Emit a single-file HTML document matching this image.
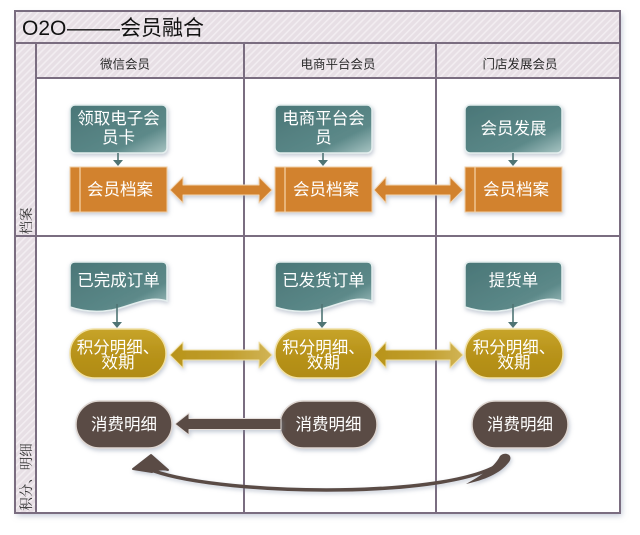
<!DOCTYPE html>
<html><head><meta charset="utf-8"><style>
html,body{margin:0;padding:0;background:#fff;}
svg{display:block;}
text{font-family:"Liberation Sans","Noto Sans CJK SC",sans-serif;}
.w{fill:#fff;font-size:16.5px;text-anchor:middle;}
.hd{fill:#2a2a2a;font-size:12.5px;text-anchor:middle;}
.lb{fill:#333;font-size:13.5px;text-anchor:middle;font-family:"Liberation Serif","Noto Serif CJK SC",serif;}
</style></head><body>
<svg width="640" height="535" viewBox="0 0 640 535" xmlns="http://www.w3.org/2000/svg">
<defs>
<pattern id="h" width="5" height="5" patternUnits="userSpaceOnUse" patternTransform="rotate(45)">
<rect width="5" height="5" fill="#e7dfe5"/>
<rect width="1.6" height="5" fill="#f2edf1"/>
</pattern>
<linearGradient id="teal" x1="0" y1="0" x2="1" y2="1">
<stop offset="0" stop-color="#4a7677"/><stop offset="0.7" stop-color="#5c8989"/><stop offset="1" stop-color="#a9c5c4"/>
</linearGradient>
<linearGradient id="gold" x1="0" y1="0" x2="0" y2="1">
<stop offset="0" stop-color="#c7a42a"/><stop offset="0.5" stop-color="#b8931a"/><stop offset="1" stop-color="#b08b16"/>
</linearGradient>
<linearGradient id="goldA" x1="0" y1="0" x2="1" y2="0">
<stop offset="0" stop-color="#b8931a"/><stop offset="0.6" stop-color="#c2a030"/><stop offset="1" stop-color="#d1b456"/>
</linearGradient>
<filter id="sh" x="-20%" y="-20%" width="140%" height="150%">
<feDropShadow dx="1" dy="2" stdDeviation="2" flood-color="#7a8aa0" flood-opacity="0.45"/>
</filter>
<filter id="fsh" x="-5%" y="-5%" width="110%" height="110%">
<feDropShadow dx="2" dy="3" stdDeviation="3" flood-color="#8a98b0" flood-opacity="0.5"/>
</filter>
</defs>

<!-- frame -->
<rect x="15" y="11" width="605" height="502" fill="#fff" filter="url(#fsh)"/>
<rect x="15" y="11" width="605" height="32" fill="url(#h)"/>
<rect x="15" y="43" width="605" height="35" fill="url(#h)"/>
<rect x="15" y="43" width="21" height="470" fill="url(#h)"/>

<g stroke="#7a6d80" stroke-width="2" fill="none">
<rect x="15" y="11" width="605" height="502"/>
<line x1="15" y1="43" x2="620" y2="43"/>
<line x1="36" y1="78" x2="620" y2="78"/>
<line x1="36" y1="43" x2="36" y2="513"/>
<line x1="244" y1="43" x2="244" y2="513"/>
<line x1="436" y1="43" x2="436" y2="513"/>
<line x1="15" y1="236" x2="620" y2="236"/>
</g>

<!-- title -->
<text x="22" y="35" font-size="21" fill="#111">O2O</text>
<text x="67" y="35" font-size="21" fill="#111" textLength="53" lengthAdjust="spacingAndGlyphs">——</text>
<text x="120" y="35" font-size="21" fill="#111">会员融合</text>

<!-- headers -->
<text class="hd" x="125" y="68.5">微信会员</text>
<text class="hd" x="338" y="68.5">电商平台会员</text>
<text class="hd" x="520" y="68.5">门店发展会员</text>

<text class="lb" transform="translate(31,221) rotate(-90)">档案</text>
<text class="lb" transform="translate(31,477) rotate(-90)">积分、明细</text>

<!-- row 1 teal boxes -->
<g filter="url(#sh)" stroke="#e4eeee" stroke-width="1.5">
<rect x="70" y="105" width="97" height="48" rx="5" fill="url(#teal)"/>
<rect x="275" y="105" width="97" height="48" rx="5" fill="url(#teal)"/>
<rect x="465" y="105" width="97" height="48" rx="5" fill="url(#teal)"/>
</g>
<text class="w" x="118.5" y="124">领取电子会</text>
<text class="w" x="118.5" y="143">员卡</text>
<text class="w" x="323.5" y="124">电商平台会</text>
<text class="w" x="323.5" y="143">员</text>
<text class="w" x="513.5" y="134">会员发展</text>

<!-- small teal arrows row1 -->
<g stroke="#4f7474" stroke-width="1.6" fill="#4f7474">
<line x1="118" y1="153" x2="118" y2="161"/><path d="M113,160 L123,160 L118,166 Z" stroke="none"/>
<line x1="323" y1="153" x2="323" y2="161"/><path d="M318,160 L328,160 L323,166 Z" stroke="none"/>
<line x1="513" y1="153" x2="513" y2="161"/><path d="M508,160 L518,160 L513,166 Z" stroke="none"/>
</g>

<!-- orange boxes -->
<g filter="url(#sh)">
<rect x="70" y="167" width="97" height="45" fill="#d2822f" stroke="#f2cfa4" stroke-width="1"/>
<rect x="275" y="167" width="97" height="45" fill="#d2822f" stroke="#f2cfa4" stroke-width="1"/>
<rect x="465" y="167" width="97" height="45" fill="#d2822f" stroke="#f2cfa4" stroke-width="1"/>
</g>
<g stroke="#f0c592" stroke-width="1.5">
<line x1="80" y1="167.5" x2="80" y2="211.5"/>
<line x1="285" y1="167.5" x2="285" y2="211.5"/>
<line x1="475" y1="167.5" x2="475" y2="211.5"/>
</g>
<text class="w" x="120" y="195">会员档案</text>
<text class="w" x="326" y="195">会员档案</text>
<text class="w" x="516" y="195">会员档案</text>

<!-- orange double arrows -->
<g fill="#d2822f" stroke="#f3d6b2" stroke-width="1" filter="url(#sh)" stroke-linejoin="round">
<path d="M170,190 L183,177 L183,185 L259,185 L259,177 L272,190 L259,203 L259,195 L183,195 L183,203 Z"/>
<path d="M374,190 L386,177 L386,185 L450,185 L450,177 L463,190 L450,203 L450,195 L386,195 L386,203 Z"/>
</g>

<!-- row 2 documents -->
<g filter="url(#sh)" stroke="#e4eeee" stroke-width="1.5" fill="url(#teal)">
<path d="M70,267 Q70,262 75,262 H162 Q167,262 167,267 V301 C148,295 132,306 112,310 C95,313 82,311 70,307 Z"/>
<path d="M275,267 Q275,262 280,262 H367 Q372,262 372,267 V301 C353,295 337,306 317,310 C300,313 287,311 275,307 Z"/>
<path d="M465,267 Q465,262 470,262 H557 Q562,262 562,267 V301 C543,295 527,306 507,310 C490,313 477,311 465,307 Z"/>
</g>
<text class="w" x="118.5" y="286">已完成订单</text>
<text class="w" x="323.5" y="286">已发货订单</text>
<text class="w" x="513.5" y="286">提货单</text>

<g stroke="#4f7474" stroke-width="1.6" fill="#4f7474">
<line x1="117" y1="304" x2="117" y2="323"/><path d="M112,322 L122,322 L117,328 Z" stroke="none"/>
<line x1="322" y1="304" x2="322" y2="323"/><path d="M317,322 L327,322 L322,328 Z" stroke="none"/>
<line x1="513" y1="304" x2="513" y2="323"/><path d="M508,322 L518,322 L513,328 Z" stroke="none"/>
</g>

<!-- gold ovals -->
<g filter="url(#sh)" stroke="#f1e1a6" stroke-width="1.5" fill="url(#gold)">
<rect x="70" y="329" width="96" height="49" rx="24.5"/>
<rect x="275" y="329" width="97" height="49" rx="24.5"/>
<rect x="465" y="329" width="98" height="49" rx="24.5"/>
</g>
<text class="w" x="118" y="353">积分明细、</text>
<text class="w" x="118" y="368">效期</text>
<text class="w" x="323.5" y="353">积分明细、</text>
<text class="w" x="323.5" y="368">效期</text>
<text class="w" x="514" y="353">积分明细、</text>
<text class="w" x="514" y="368">效期</text>

<g fill="url(#goldA)" stroke="#f1e1a6" stroke-width="1" filter="url(#sh)" stroke-linejoin="round">
<path d="M170,355 L183,342 L183,350 L259,350 L259,342 L272,355 L259,368 L259,360 L183,360 L183,368 Z"/>
<path d="M374,355 L386,342 L386,350 L450,350 L450,342 L463,355 L450,368 L450,360 L386,360 L386,368 Z"/>
</g>

<!-- brown ovals -->
<g filter="url(#sh)" stroke="#ddd5d0" stroke-width="1.5" fill="#5a4b45">
<rect x="76" y="401" width="96" height="47" rx="23.5"/>
<rect x="280" y="401" width="97" height="47" rx="23.5"/>
<rect x="472" y="401" width="96" height="47" rx="23.5"/>
</g>
<text class="w" x="124" y="430">消费明细</text>
<text class="w" x="328.5" y="430">消费明细</text>
<text class="w" x="520" y="430">消费明细</text>

<!-- brown left arrow -->
<path d="M175,424 L189,413 L189,418.5 L281,418.5 L281,429.5 L189,429.5 L189,435 Z" fill="#5a4b45" stroke="#e6dfdb" stroke-width="1" stroke-linejoin="round" filter="url(#sh)"/>

<!-- curved arrow -->
<g filter="url(#sh)">
<path d="M505,460 C460,500 225,496 154,471" fill="none" stroke="#5a4b45" stroke-width="3.5" stroke-linecap="round"/>
<path d="M500,456 C505,451 514,455 509,462 C500,474 484,480 466,484 C480,476 494,468 500,456 Z" fill="#5a4b45"/>
<path d="M133,469 L151,455 L168,470 Q160,468 152,472 Z" fill="#5a4b45" stroke="#5a4b45" stroke-width="2" stroke-linejoin="round"/>
</g>
</svg>
</body></html>
